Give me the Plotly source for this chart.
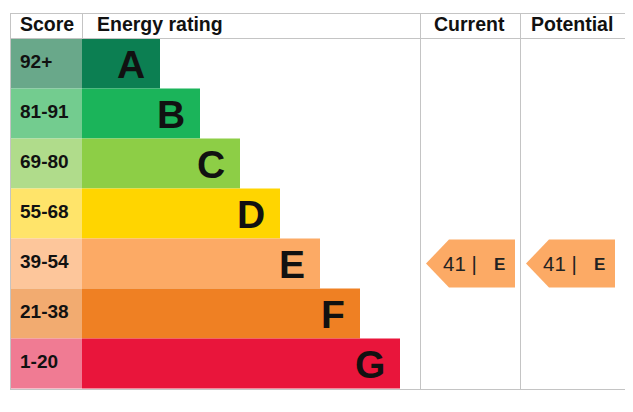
import plotly.graph_objects as go

# EPC rating table data
bands = ["A", "B", "C", "D", "E", "F", "G"]
score_ranges = ["92+", "81-91", "69-80", "55-68", "39-54", "21-38", "1-20"]
band_colors = ["#0c7f52", "#1bb45a", "#8dce46", "#ffd500", "#fcaa65", "#ef8023", "#e9153b"]
score_colors = ["#69a88a", "#73cc8f", "#b0dc8b", "#ffe46a", "#fdc69b", "#f2ab70", "#f07b93"]
headers = ["Score", "Energy rating", "Current", "Potential"]

current_score = 41
current_band = "E"
potential_score = 41
potential_band = "E"

W, H = 633, 412
PAD = 8  # page body margin, compensated in the axis ranges
LEFT, SCORE_RIGHT, RIGHT = 10, 82, 625
COL_X = [420, 520, 625]
TOP, HEAD_BOT, BOTTOM = 13, 38.5, 389
ROW_H = 50
LINE = "#c4c4c4"
FONT = "Liberation Sans, Arial, sans-serif"


def row_center(i):
    return HEAD_BOT + ROW_H * i + ROW_H / 2


rows = list(range(len(bands)))
centers = [row_center(i) for i in rows]
bar_len = [78 + 40 * i for i in rows]

fig = go.Figure()

# score cells
fig.add_trace(go.Bar(
    orientation="h", y=centers, x=[SCORE_RIGHT - LEFT] * len(bands), base=LEFT,
    width=ROW_H, marker=dict(color=score_colors, line=dict(width=0)), hoverinfo="skip"
))
# band bars
fig.add_trace(go.Bar(
    orientation="h", y=centers, x=bar_len, base=SCORE_RIGHT,
    width=ROW_H, marker=dict(color=band_colors, line=dict(width=0)), hoverinfo="skip"
))

annotations = []
for i, (b, s) in enumerate(zip(bands, score_ranges)):
    annotations.append(dict(x=18, y=centers[i] - 2, text=f"<b>{s}</b>", xanchor="left",
                            showarrow=False, font=dict(size=19, color="#111", family=FONT)))
    annotations.append(dict(x=SCORE_RIGHT + bar_len[i] - 13, y=centers[i] + 1, text=f"<b>{b}</b>",
                            xanchor="right", showarrow=False,
                            font=dict(size=39, color="#111", family=FONT)))

# header
head_pos = [(18, "left"), (95, "left"), (469, "center"), (572, "center")]
for (hx, anc), h in zip(head_pos, headers):
    annotations.append(dict(x=hx, y=(TOP + HEAD_BOT) / 2 - 2, text=f"<b>{h}</b>", xanchor=anc,
                            showarrow=False, font=dict(size=19.5, color="#111", family=FONT)))

# current / potential arrows
for col_left, score, band in [(COL_X[0], current_score, current_band),
                              (COL_X[1], potential_score, potential_band)]:
    i = bands.index(band)
    top, bot = centers[i] - ROW_H / 2 + 1, centers[i] + ROW_H / 2 - 1
    tip, shoulder, end = col_left + 6, col_left + 29, col_left + 95
    fig.add_trace(go.Scatter(
        x=[tip, shoulder, end, end, shoulder, tip], y=[centers[i], top, top, bot, bot, centers[i]],
        fill="toself", fillcolor=band_colors[i], line=dict(width=0), mode="lines",
        hoverinfo="skip"
    ))
    annotations.append(dict(x=col_left + 21, y=centers[i], text=f"{score} |", xanchor="left",
                            showarrow=False, font=dict(size=20.5, color="#222", family=FONT)))
    annotations.append(dict(x=col_left + 79, y=centers[i] + 1, text=f"<b>{band}</b>",
                            xanchor="center", showarrow=False,
                            font=dict(size=17, color="#222", family=FONT)))

# table lines
shapes = []
def hline(y, x0=LEFT, x1=RIGHT):
    shapes.append(dict(type="line", x0=x0, x1=x1, y0=y, y1=y, line=dict(color=LINE, width=1)))
def vline(x, y0=TOP, y1=BOTTOM):
    shapes.append(dict(type="line", x0=x, x1=x, y0=y0, y1=y1, line=dict(color=LINE, width=1)))

hline(TOP + 0.5)
hline(HEAD_BOT)
hline(BOTTOM + 0.5)
vline(LEFT + 0.5)
vline(SCORE_RIGHT + 0.5, TOP, HEAD_BOT)
for cx in COL_X:
    vline(cx + 0.5)

fig.update_layout(
    width=W - PAD, height=H - PAD, margin=dict(l=0, r=0, t=0, b=0),
    paper_bgcolor="white", plot_bgcolor="white", showlegend=False,
    barmode="overlay",
    xaxis=dict(range=[PAD, W], visible=False, fixedrange=True),
    yaxis=dict(range=[H, PAD], visible=False, fixedrange=True),
    annotations=annotations, shapes=shapes,
)

fig.write_html("out.html", config={"displayModeBar": False})
